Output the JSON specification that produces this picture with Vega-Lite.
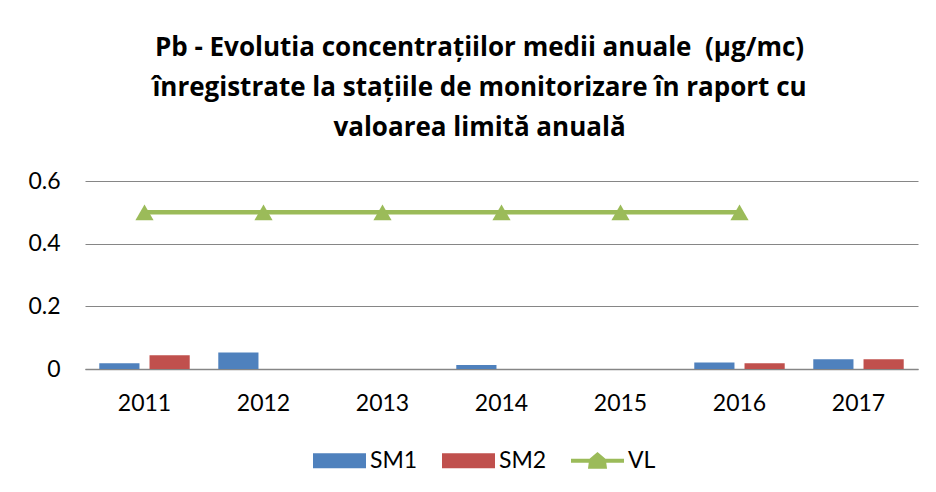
{
  "$schema": "https://vega.github.io/schema/vega-lite/v6.json",
  "width": 833,
  "height": 188,
  "autosize": {"type": "none"},
  "padding": {"left": 85, "top": 181, "right": 18, "bottom": 123},
  "background": "white",
  "title": {
    "text": ["Pb - Evolutia concentrațiilor medii anuale \u00a0(µg/mc)", "înregistrate la stațiile de monitorizare în raport cu", "valoarea limită anuală"],
    "font": "Open Sans",
    "fontSize": 26,
    "fontWeight": "bold",
    "color": "#000000",
    "lineHeight": 40,
    "anchor": "middle",
    "frame": "group",
    "dx": -22,
    "offset": 29
  },
  "config": {
    "view": {"stroke": null},
    "font": "Lato",
    "axis": {"labelFont": "Lato", "labelFontSize": 23, "labelColor": "#000000", "titleFontSize": 18}
  },
  "data": {
    "values": [
      {"year": "2011", "series": "SM1", "value": 0.018},
      {"year": "2011", "series": "SM2", "value": 0.044},
      {"year": "2012", "series": "SM1", "value": 0.053},
      {"year": "2014", "series": "SM1", "value": 0.013},
      {"year": "2016", "series": "SM1", "value": 0.021},
      {"year": "2016", "series": "SM2", "value": 0.018},
      {"year": "2017", "series": "SM1", "value": 0.031},
      {"year": "2017", "series": "SM2", "value": 0.031},
      {"year": "2011", "series": "VL", "value": 0.5},
      {"year": "2012", "series": "VL", "value": 0.5},
      {"year": "2013", "series": "VL", "value": 0.5},
      {"year": "2014", "series": "VL", "value": 0.5},
      {"year": "2015", "series": "VL", "value": 0.5},
      {"year": "2016", "series": "VL", "value": 0.5}
    ]
  },
  "encoding": {
    "x": {
      "field": "year",
      "type": "nominal",
      "scale": {"domain": ["2011", "2012", "2013", "2014", "2015", "2016", "2017"], "paddingInner": 0.24, "paddingOuter": 0.12},
      "axis": {"title": null, "labelAngle": 0, "ticks": false, "domainColor": "#868686", "domainWidth": 1.5, "labelPadding": 23}
    },
    "y": {
      "field": "value",
      "type": "quantitative",
      "scale": {"domain": [0, 0.6], "nice": false},
      "axis": {"title": null, "values": [0, 0.2, 0.4, 0.6], "ticks": false, "domain": false, "gridColor": "#868686", "gridWidth": 1, "labelPadding": 25, "format": "~g"}
    },
    "color": {
      "field": "series",
      "type": "nominal",
      "scale": {"domain": ["SM1", "SM2", "VL"], "range": ["#4F81BD", "#C0504D", "#9BBB59"]},
      "legend": {
        "title": null,
        "orient": "none",
        "direction": "horizontal",
        "legendX": 228,
        "legendY": 253,
        "labelFont": "Lato",
        "labelFontSize": 23,
        "labelColor": "#000000",
        "symbolSize": 2809,
        "labelOffset": 4,
        "columnPadding": 24,
        "symbolStrokeWidth": 0,
        "encode": {
          "symbols": {
            "update": {
              "shape": {"signal": "datum.value == 'VL' ? 'M-1,-0.08H-0.3L0,-0.33L0.3,-0.08H1V0.08H0.33L0.36,0.3H-0.36L-0.33,0.08H-1Z' : 'M-1,-0.28H1V0.28H-1Z'"},
              "fill": {"scale": "color", "field": "value"},
              "strokeWidth": {"value": 0},
              "opacity": {"value": 1}
            }
          }
        }
      }
    }
  },
  "layer": [
    {
      "transform": [{"filter": "datum.series != 'VL'"}],
      "mark": {"type": "bar"},
      "encoding": {
        "xOffset": {"field": "series", "type": "nominal", "scale": {"domain": ["SM1", "SM2"], "paddingInner": 0.2}}
      }
    },
    {
      "transform": [{"filter": "datum.series == 'VL'"}],
      "mark": {"type": "line", "strokeWidth": 4.5, "point": {"shape": "triangle-up", "size": 330, "filled": true, "opacity": 1}},
      "encoding": {}
    }
  ]
}
